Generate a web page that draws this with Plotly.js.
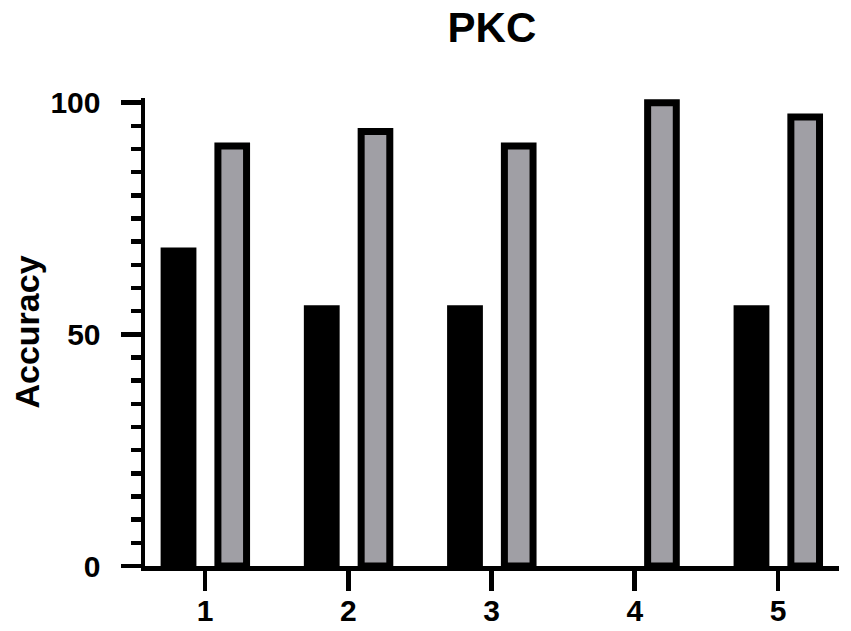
<!DOCTYPE html>
<html>
<head>
<meta charset="utf-8">
<script src="https://cdn.plot.ly/plotly-3.0.1.min.js"></script>
<style>html,body{margin:0;padding:0;background:#fff;}#chart{width:851px;height:631px;}</style>
</head>
<body>
<div id="chart"></div>
<script>
const categories = [1, 2, 3, 4, 5];
const tickLabels = ['1', '2', '3', '4', '5'];
const blackValues = [68.75, 56.25, 56.25, 0, 56.25];
const grayValues = [90.625, 93.75, 90.625, 100, 96.875];

const font = '"Liberation Sans", Arial, sans-serif';

const traces = [
  {
    type: 'bar', x: categories, y: blackValues,
    width: 0.25, offset: -0.31,
    marker: {color: '#000000', line: {width: 0}},
    hoverinfo: 'x+y'
  },
  {
    type: 'bar', x: categories, y: grayValues,
    width: 0.2, offset: 0.09,
    marker: {color: '#a09fa5', line: {color: '#000000', width: 7}},
    hoverinfo: 'x+y'
  }
];

const layout = {
  width: 851, height: 631,
  margin: {l: 145, r: 12, t: 98, b: 65},
  paper_bgcolor: '#ffffff', plot_bgcolor: '#ffffff',
  showlegend: false,
  barmode: 'overlay',
  font: {family: font, color: '#000000'},
  title: {
    text: '<b>PKC</b>', x: 0.578, xanchor: 'center', y: 0.957, yanchor: 'middle',
    font: {family: font, size: 42, color: '#000000'}
  },
  xaxis: {
    range: [0.581, 5.426],
    tickvals: categories, ticktext: tickLabels,
    showline: true, linecolor: '#000000', linewidth: 4.5,
    ticks: 'outside', ticklen: 20, tickwidth: 4.5, tickcolor: '#000000',
    ticklabelstandoff: -6,
    showgrid: false, zeroline: false,
    tickfont: {family: font, size: 30, color: '#000000', weight: 'bold'}
  },
  yaxis: {
    range: [0, 101],
    tickvals: [0, 50, 100],
    showline: true, linecolor: '#000000', linewidth: 4.5,
    ticks: 'outside', ticklen: 20, tickwidth: 4.5, tickcolor: '#000000',
    ticklabelstandoff: 14,
    minor: {dtick: 5, ticks: 'outside', ticklen: 10, tickwidth: 4.5, tickcolor: '#000000', showgrid: false},
    showgrid: false, zeroline: false,
    tickfont: {family: font, size: 30, color: '#000000', weight: 'bold'},
    title: {text: '<b>Accuracy</b>', standoff: 2, font: {family: font, size: 34, color: '#000000'}}
  }
};

Plotly.newPlot('chart', traces, layout, {displayModeBar: false, staticPlot: true});
</script>
</body>
</html>
